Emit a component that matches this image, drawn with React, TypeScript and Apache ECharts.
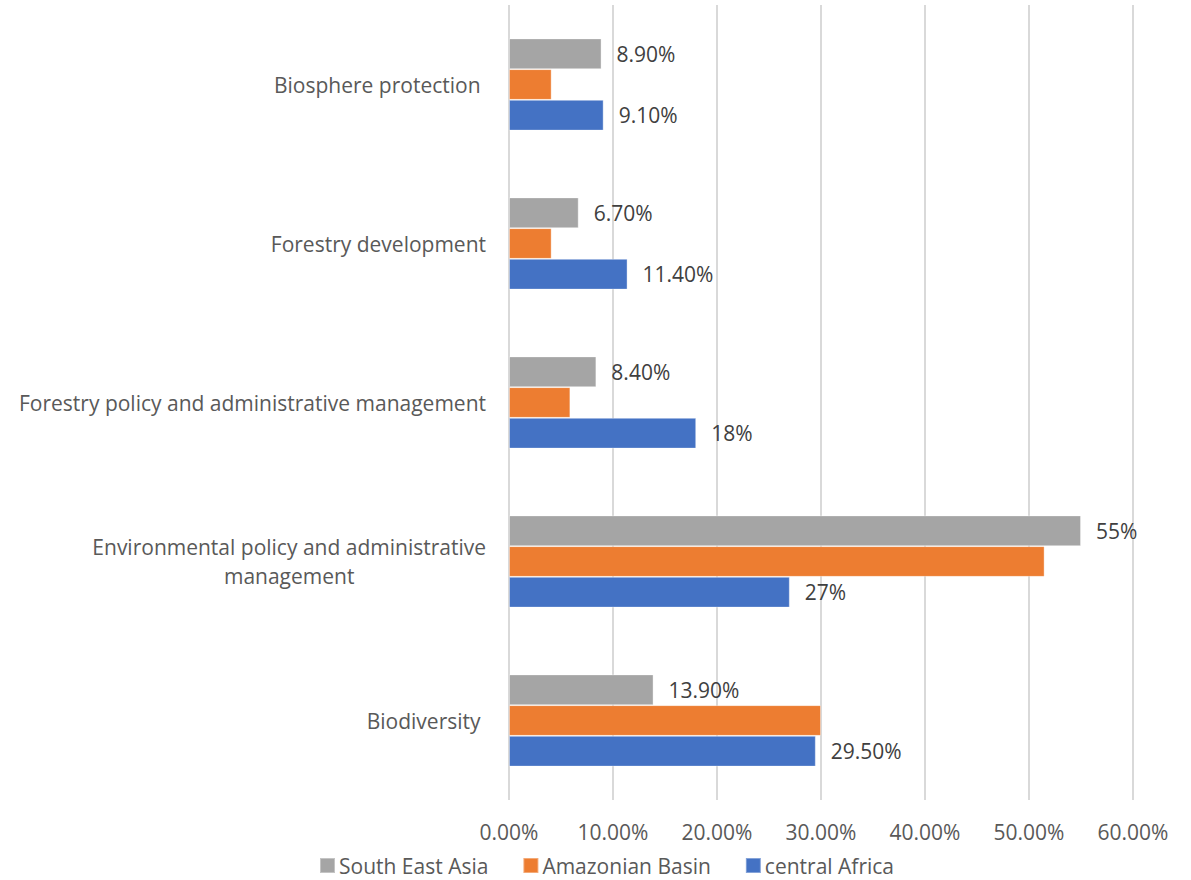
import React, { useEffect, useRef } from "react";
import * as echarts from "echarts";

const categories = [
  "Biodiversity ",
  "Environmental policy and administrative\nmanagement",
  "Forestry policy and administrative management",
  "Forestry development",
  "Biosphere protection ",
];
const centralAfrica = [29.5, 27, 18, 11.4, 9.1];
const amazonianBasin = [30, 51.5, 5.9, 4.1, 4.1];
const southEastAsia = [13.9, 55, 8.4, 6.7, 8.9];
const centralAfricaLabels = ["29.50%", "27%", "18%", "11.40%", "9.10%"];
const southEastAsiaLabels = ["13.90%", "55%", "8.40%", "6.70%", "8.90%"];
const legendOrder = ["South East Asia", "Amazonian Basin", "central Africa"];
const xTicks = { min: 0, max: 60, interval: 10 };

const FONT = "'Open Sans', 'Noto Sans', sans-serif";
const FS = 21;

export default function App() {
  const ref = useRef<HTMLDivElement>(null);
  useEffect(() => {
    document.body.style.margin = "0";
    const chart = echarts.init(ref.current!, undefined, { renderer: "svg" });
    const labelStyle = {
      show: true,
      position: "right",
      distance: 15,
      fontSize: FS,
      color: "#404040",
      fontFamily: FONT,
    };
    const mk = (name: string, data: number[], color: string, labels?: string[]) => ({
      name,
      type: "bar",
      data: data.map((v, i) => ({
        value: v,
        label: labels ? { ...labelStyle, formatter: labels[i] } : { show: false },
      })),
      barGap: "0%",
      barCategoryGap: "42%",
      itemStyle: { color, borderColor: "rgba(255,255,255,0.35)", borderWidth: 1 },
    });
    chart.setOption({
      animation: false,
      textStyle: { fontFamily: FONT },
      grid: { left: 509, right: 58, top: 5, bottom: 80, containLabel: false },
      legend: {
        data: legendOrder,
        top: 850,
        left: 314,
        itemWidth: 15,
        itemHeight: 15,
        itemGap: 34,
        icon: "rect",
        textStyle: { fontSize: FS, color: "#595959", fontFamily: FONT, padding: [0, 0, 0, -1] },
      },
      xAxis: {
        type: "value",
        min: xTicks.min,
        max: xTicks.max,
        interval: xTicks.interval,
        axisLine: { show: false },
        axisTick: { show: false },
        splitLine: { show: true, lineStyle: { color: "#d9d9d9", width: 2 } },
        axisLabel: {
          formatter: (v: number) => v.toFixed(2) + "%",
          fontSize: FS,
          color: "#595959",
          margin: 21,
          fontFamily: FONT,
        },
      },
      yAxis: {
        type: "category",
        data: categories,
        axisLine: { show: false },
        axisTick: { show: false },
        axisLabel: {
          fontSize: FS,
          color: "#595959",
          margin: 23,
          fontFamily: FONT,
          lineHeight: 29,
          formatter: (v: string) =>
            v
              .split("\n")
              .map((l) => "{c|" + l + "}")
              .join("\n"),
          rich: {
            c: { align: "center", fontSize: FS, color: "#595959", fontFamily: FONT, lineHeight: 29 },
          },
        },
      },
      series: [
        mk(legendOrder[0], southEastAsia, "#a5a5a5", southEastAsiaLabels),
        mk(legendOrder[1], amazonianBasin, "#ed7d31"),
        mk(legendOrder[2], centralAfrica, "#4472c4", centralAfricaLabels),
      ],
    });
    return () => chart.dispose();
  }, []);
  return <div ref={ref} style={{ width: 1191, height: 880 }} />;
}
